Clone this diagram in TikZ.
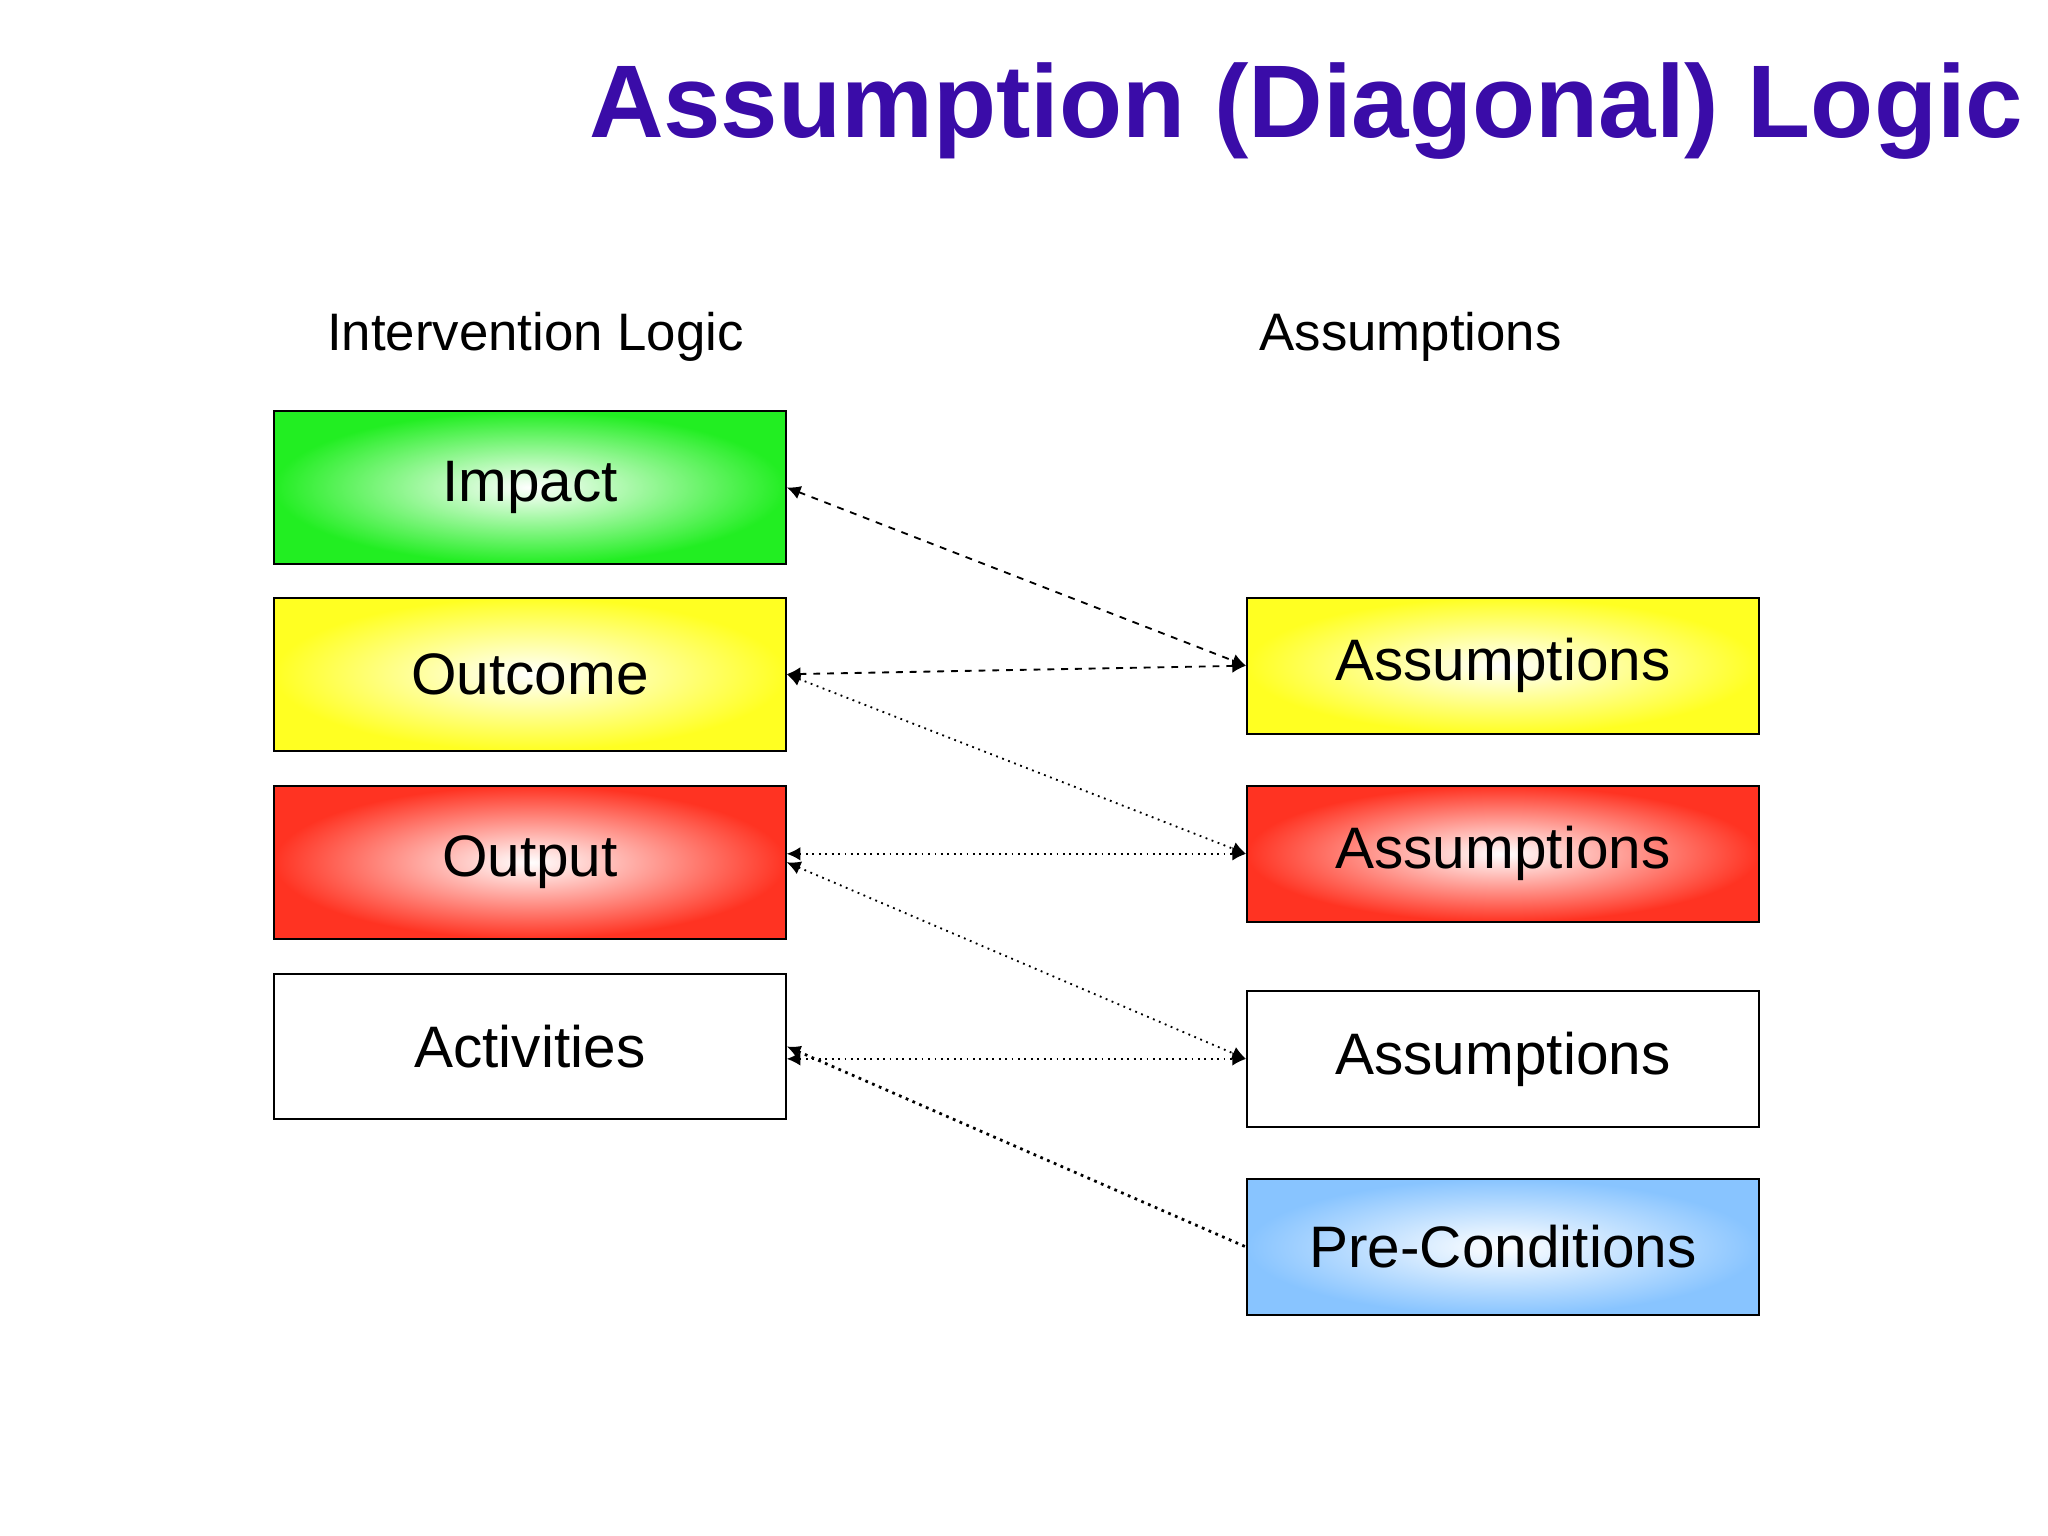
\documentclass[tikz,border=0pt]{standalone}
\usepackage{fontspec}
\setmainfont{Liberation Sans}
\usetikzlibrary{arrows.meta}
\definecolor{ttl}{HTML}{3A0CA8}
\definecolor{gr}{HTML}{22EE22}
\definecolor{ye}{HTML}{FFFF22}
\definecolor{re}{HTML}{FF3322}
\definecolor{bl}{HTML}{88C4FF}
\begin{document}
\begin{tikzpicture}[x=0.02cm,y=-0.02cm,
  box/.style={draw=black,line width=0.8pt,minimum width=7.84cm,font=\fontsize{25.5}{30}\selectfont,inner sep=0pt,anchor=north west},
  sh/.style={inner color=white,outer color=#1},
  con/.style={line width=0.8pt,{Latex[length=6pt,width=6pt]}-{Latex[length=6pt,width=6pt]}}]
\useasboundingbox (0,0) rectangle (1568,1176);
\node[font=\fontsize{45}{50}\selectfont\bfseries,text=ttl] (t) at (1000,85) {Assumption (Diagonal) Logic};
\node[font=\fontsize{23}{27}\selectfont] (h1) at (410,258) {Intervention Logic};
\node[font=\fontsize{23}{27}\selectfont] (h2) at (1080,258) {Assumptions};
\node[box,minimum height=2.34cm,sh=gr] (imp) at (209,314) {Impact};
\node[box,minimum height=2.34cm,sh=ye] (out) at (209,457) {Outcome};
\node[box,minimum height=2.34cm,sh=re] (opt) at (209,601) {Output};
\node[box,minimum height=2.22cm,fill=white] (act) at (209,745) {Activities};
\node[box,minimum height=2.08cm,sh=ye] (a1) at (954,457) {Assumptions};
\node[box,minimum height=2.08cm,sh=re] (a2) at (954,601) {Assumptions};
\node[box,minimum height=2.08cm,fill=white] (a3) at (954,758) {Assumptions};
\node[box,minimum height=2.08cm,sh=bl] (pc) at (954,902) {Pre-Conditions};
\draw[con,dashed] (imp.east) -- (a1.west);
\draw[con,dashed] (out.east) -- (a1.west);
\draw[con,dotted] (out.east) -- (a2.west);
\draw[con,dotted] (opt.east |- a2.west) -- (a2.west);
\draw[con,dotted] (opt.east) -- (a3.west);
\draw[con,dotted] (act.east |- a3.west) -- (a3.west);
\draw[line width=1.2pt,dotted,{Latex[length=6pt,width=6pt]}-] (act.east) -- (pc.west);
\end{tikzpicture}
\end{document}
